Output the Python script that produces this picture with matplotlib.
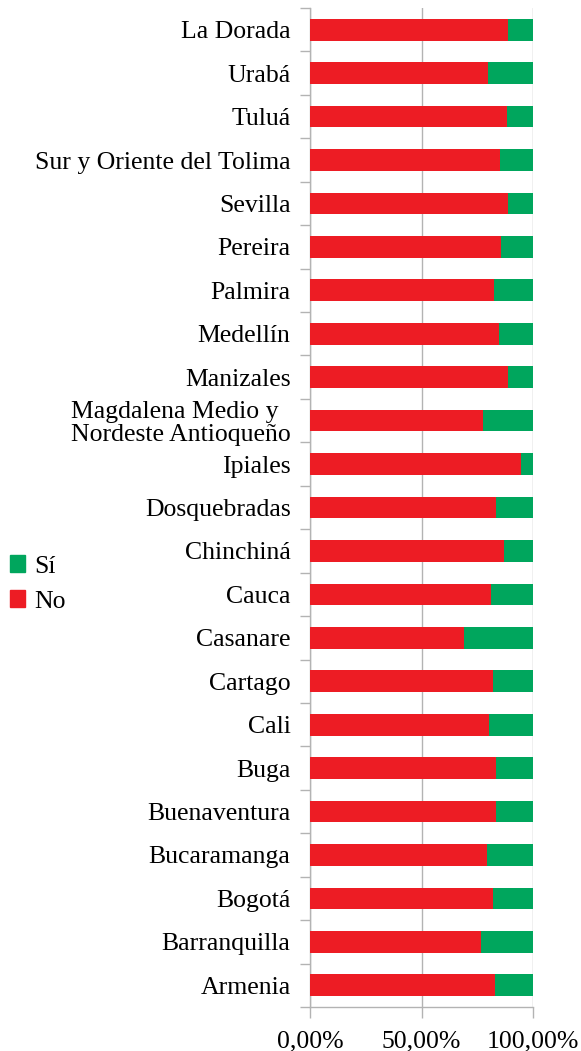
import numpy as np
import matplotlib.pyplot as plt
from matplotlib.patches import Patch

plt.rcParams['font.family'] = ['Liberation Serif', 'DejaVu Serif']

# top to bottom
ciudades = ["La Dorada", "Urabá", "Tuluá", "Sur y Oriente del Tolima", "Sevilla",
            "Pereira", "Palmira", "Medellín", "Manizales",
            "Magdalena Medio y \nNordeste Antioqueño", "Ipiales", "Dosquebradas",
            "Chinchiná", "Cauca", "Casanare", "Cartago", "Cali", "Buga",
            "Buenaventura", "Bucaramanga", "Bogotá", "Barranquilla", "Armenia"]
no_pct = [88.8, 79.8, 88.5, 85.2, 88.8, 85.8, 82.5, 84.9, 88.8, 77.7, 94.7, 83.4,
          87.0, 81.3, 69.0, 82.2, 80.4, 83.4, 83.4, 79.5, 82.2, 76.8, 83.1]
si_pct = [100 - v for v in no_pct]
x_ticks = [0, 50, 100]
x_labels = ["0,00%", "50,00%", "100,00%"]

red = "#ED1C24"
green = "#00A65D"
grey = "#b3b3b3"
fs = 18.5

fig = plt.figure(figsize=(5.81, 10.51), dpi=100)
ax = fig.add_axes([310 / 581, 1 - 1007 / 1051, 223 / 581, 999 / 1051])

y = np.arange(len(ciudades))
ax.barh(y, no_pct, height=0.5, color=red, zorder=3)
ax.barh(y, si_pct, left=no_pct, height=0.5, color=green, zorder=3)

ax.set_xlim(0, 100)
ax.set_ylim(len(ciudades) - 0.5, -0.5)

ax.set_yticks(y)
ax.set_yticklabels(ciudades, fontsize=fs, linespacing=1.05, multialignment='left')
ax.set_yticks(np.arange(len(ciudades) + 1) - 0.5, minor=True)
ax.tick_params(axis='y', which='major', length=0, pad=14)
ax.tick_params(axis='y', which='minor', length=7.2, width=1, color=grey)

ax.set_xticks(x_ticks)
ax.set_xticklabels(x_labels, fontsize=fs)
ax.tick_params(axis='x', length=8, width=1, color=grey, pad=9)

ax.grid(axis='x', color=grey, linewidth=1, zorder=0)
for s in ['top', 'right']:
    ax.spines[s].set_visible(False)
for s in ['left', 'bottom']:
    ax.spines[s].set_color(grey)
    ax.spines[s].set_linewidth(1)

handles = [Patch(color=green, label="Sí"), Patch(color=red, label="No")]
fig.legend(handles=handles, loc='center left', bbox_to_anchor=(10 / 581, 1 - 584 / 1051),
           frameon=False, fontsize=fs, handlelength=0.6, handleheight=0.6,
           handletextpad=0.35, labelspacing=0.5, borderpad=0, borderaxespad=0)

fig.savefig("out.png", dpi=100)
